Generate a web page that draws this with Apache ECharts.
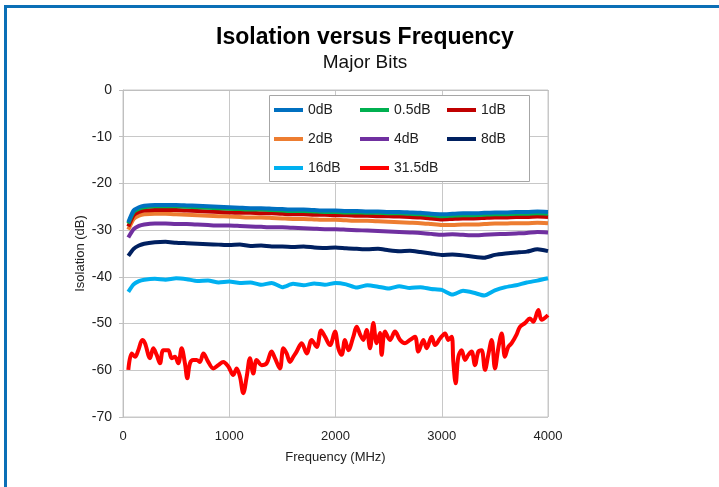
<!DOCTYPE html>
<html>
<head>
<meta charset="utf-8">
<script src="https://cdn.jsdelivr.net/npm/echarts@6/dist/echarts.min.js"></script>
<style>
html,body{margin:0;padding:0;background:#fff;}
#chart{width:719px;height:487px;}
</style>
</head>
<body>
<div id="chart"></div>
<script>
const freqs = [50,100,150,200,300,400,500,600,700,800,900,1000,1100,1200,1300,1400,1500,1600,1700,1800,1900,2000,2100,2200,2300,2400,2500,2600,2700,2800,2900,3000,3100,3200,3300,3400,3500,3600,3700,3800,3900,4000];
const s0dB = [-28.3,-25.8,-25.1,-24.8,-24.6,-24.6,-24.6,-24.7,-24.8,-24.9,-25.0,-25.1,-25.2,-25.3,-25.3,-25.4,-25.5,-25.6,-25.6,-25.7,-25.8,-25.8,-25.9,-25.9,-26.0,-26.0,-26.1,-26.1,-26.2,-26.3,-26.5,-26.6,-26.5,-26.4,-26.4,-26.3,-26.2,-26.2,-26.1,-26.1,-26.0,-26.1];
const s05dB = [-28.6,-26.1,-25.4,-25.1,-24.9,-24.9,-24.9,-25.0,-25.1,-25.2,-25.3,-25.4,-25.5,-25.6,-25.6,-25.7,-25.8,-25.9,-25.9,-26.0,-26.1,-26.1,-26.2,-26.2,-26.3,-26.3,-26.4,-26.4,-26.5,-26.6,-26.8,-27.0,-26.9,-26.8,-26.8,-26.7,-26.6,-26.6,-26.5,-26.5,-26.4,-26.5];
const s1dB = [-29.2,-26.8,-26.1,-25.8,-25.7,-25.7,-25.7,-25.8,-25.9,-26.0,-26.1,-26.2,-26.3,-26.3,-26.4,-26.4,-26.5,-26.6,-26.6,-26.7,-26.7,-26.8,-26.8,-26.9,-26.9,-27.0,-27.0,-27.1,-27.2,-27.3,-27.5,-27.7,-27.6,-27.5,-27.5,-27.4,-27.3,-27.3,-27.2,-27.2,-27.1,-27.2];
const s2dB = [-29.9,-27.6,-26.9,-26.6,-26.5,-26.5,-26.6,-26.7,-26.8,-26.9,-27.0,-27.1,-27.2,-27.3,-27.3,-27.4,-27.5,-27.6,-27.6,-27.7,-27.8,-27.8,-27.9,-28.0,-28.0,-28.1,-28.2,-28.3,-28.4,-28.5,-28.7,-28.9,-28.9,-28.8,-28.8,-28.7,-28.6,-28.6,-28.5,-28.5,-28.4,-28.5];
const s4dB = [-31.6,-29.8,-29.1,-28.8,-28.6,-28.6,-28.7,-28.7,-28.8,-28.9,-29.0,-29.0,-29.1,-29.2,-29.3,-29.4,-29.4,-29.5,-29.6,-29.7,-29.8,-29.8,-29.9,-30.0,-30.1,-30.2,-30.3,-30.4,-30.5,-30.6,-30.8,-31.0,-30.9,-31.0,-31.1,-31.0,-30.9,-30.8,-30.7,-30.6,-30.4,-30.5];
const s8dB = [-35.5,-34.0,-33.3,-32.9,-32.6,-32.5,-32.7,-32.8,-32.9,-33.0,-33.1,-33.2,-33.1,-33.4,-33.3,-33.5,-33.5,-33.6,-33.5,-33.7,-33.8,-33.7,-33.9,-34.0,-34.1,-34.0,-34.3,-34.5,-34.4,-34.7,-35.0,-35.3,-35.2,-35.4,-35.7,-35.9,-35.3,-35.0,-34.8,-34.6,-34.1,-34.5];
const s16dB = [-43.2,-41.6,-40.9,-40.6,-40.4,-40.6,-40.3,-40.5,-40.9,-40.8,-41.2,-41.0,-41.3,-41.2,-41.7,-41.3,-42.2,-41.5,-41.8,-41.4,-41.7,-41.3,-41.6,-42.3,-41.8,-42.1,-42.5,-42.0,-42.4,-42.2,-42.6,-42.8,-43.8,-43.0,-43.4,-44.0,-42.9,-42.2,-41.8,-41.2,-40.8,-40.3];
const redFreqs = [50,82,113,144,182,207,254,285,317,348,379,426,458,489,520,552,583,605,630,661,693,724,756,802,850,897,944,991,1038,1070,1101,1132,1164,1195,1226,1258,1305,1352,1398,1430,1477,1509,1540,1572,1603,1634,1682,1729,1776,1823,1865,1901,1948,1995,2027,2058,2089,2121,2168,2199,2231,2262,2293,2325,2356,2387,2419,2434,2466,2513,2560,2607,2654,2701,2748,2780,2827,2858,2905,2937,2984,3031,3062,3093,3109,3131,3156,3187,3219,3250,3281,3313,3344,3375,3407,3438,3470,3501,3532,3564,3595,3626,3658,3705,3736,3783,3830,3862,3909,3940,4000];
const s315dB = [-59.9,-56.4,-57.1,-55.7,-53.5,-54.2,-57.4,-55.3,-56.7,-58.5,-55.7,-55.7,-57.4,-57.1,-58.5,-55.3,-58.5,-61.7,-58.5,-57.8,-57.8,-58.2,-56.4,-58.2,-59.6,-58.9,-58.2,-59.2,-61.0,-59.6,-61.4,-64.9,-61.4,-57.4,-60.7,-57.8,-58.9,-58.5,-56.0,-57.4,-59.6,-55.3,-56.4,-58.2,-57.1,-56.0,-54.2,-56.4,-53.5,-55.0,-51.5,-52.8,-54.6,-51.7,-55.3,-56.7,-53.5,-55.7,-52.8,-50.7,-52.3,-53.5,-51.4,-55.3,-49.9,-54.2,-52.0,-56.7,-51.7,-53.5,-51.7,-53.5,-54.2,-53.5,-52.8,-56.0,-53.5,-55.3,-52.8,-54.6,-53.2,-52.1,-53.5,-52.8,-58.2,-62.8,-57.1,-55.7,-57.8,-56.7,-56.0,-58.9,-56.0,-55.7,-59.9,-56.7,-53.5,-59.6,-55.3,-52.1,-57.1,-55.0,-54.2,-52.3,-50.7,-49.9,-48.9,-49.6,-47.1,-49.2,-48.2];
const seriesNames = ['0dB','0.5dB','1dB','2dB','4dB','8dB','16dB','31.5dB'];
const seriesColors = ['#0070C0','#00B050','#C00000','#ED7D31','#7030A0','#002060','#00B0F0','#FF0000'];
const yTicks = [0,-10,-20,-30,-40,-50,-60,-70];
const xTicks = [0,1000,2000,3000,4000];

const font = '"Liberation Sans", Arial, sans-serif';
function pairs(xs, ys){ return xs.map((x,i)=>[x, ys[i]]); }
const seriesData = [
  pairs(freqs, s0dB), pairs(freqs, s05dB), pairs(freqs, s1dB), pairs(freqs, s2dB),
  pairs(freqs, s4dB), pairs(freqs, s8dB), pairs(freqs, s16dB), pairs(redFreqs, s315dB)
];
const drawOrder = [7,6,5,4,3,2,1,0];
const series = drawOrder.map(i => ({
  name: seriesNames[i], type: 'line', data: seriesData[i],
  showSymbol: false, symbol: 'none', smooth: i === 7 ? 0.35 : 0.2,
  lineStyle: { color: seriesColors[i], width: 4 },
  itemStyle: { color: seriesColors[i] },
  z: 2, animation: false
}));

function legendCol(left, names){
  return {
    left: left, top: 103, orient: 'vertical', icon: 'rect', z: 10, padding: 0,
    itemWidth: 29, itemHeight: 4, itemGap: 15,
    data: names,
    textStyle: { fontFamily: font, fontSize: 14, lineHeight: 14, color: '#222' },
    selectedMode: false
  };
}

const chart = echarts.init(document.getElementById('chart'), null, {renderer: 'canvas'});
chart.setOption({
  animation: false,
  backgroundColor: '#ffffff',
  title: [
    { text: 'Isolation versus Frequency', left: 360, top: 21, textAlign: 'center',
      textStyle: { fontFamily: font, fontSize: 23, fontWeight: 'bold', color: '#000' } },
    { text: 'Major Bits', left: 360, top: 48, textAlign: 'center',
      textStyle: { fontFamily: font, fontSize: 19, fontWeight: 'normal', color: '#111' } }
  ],
  grid: { left: 123, right: 171, top: 90, bottom: 70, containLabel: false,
          show: true, borderColor: '#c8c8c8', borderWidth: 1 },
  legend: [
    legendCol(274, ['0dB','2dB','16dB']),
    legendCol(360, ['0.5dB','4dB','31.5dB']),
    legendCol(447, ['1dB','8dB'])
  ],
  xAxis: {
    type: 'value', min: 0, max: 4000, interval: 1000,
    name: 'Frequency (MHz)', nameLocation: 'middle', nameGap: 34,
    nameTextStyle: { fontFamily: font, fontSize: 13, color: '#222' },
    axisLine: { show: true, lineStyle: { color: '#bfbfbf' } },
    axisTick: { show: false },
    axisLabel: { fontFamily: font, fontSize: 13, color: '#222', margin: 13,
      formatter: v => xTicks.indexOf(v) >= 0 ? String(v) : '' },
    splitLine: { show: true, lineStyle: { color: '#c8c8c8', width: 1 } }
  },
  yAxis: {
    type: 'value', min: -70, max: 0, interval: 10,
    name: 'Isolation (dB)', nameLocation: 'middle', nameGap: 36, nameRotate: 90,
    nameMoveOverlap: false,
    nameTextStyle: { fontFamily: font, fontSize: 13, color: '#222' },
    axisLine: { show: true, lineStyle: { color: '#bfbfbf' } },
    axisTick: { show: true, length: 4, lineStyle: { color: '#bfbfbf' } },
    axisLabel: { fontFamily: font, fontSize: 14, color: '#222', margin: 11,
      formatter: v => yTicks.indexOf(v) >= 0 ? String(v) : '' },
    splitLine: { show: true, lineStyle: { color: '#c8c8c8', width: 1 } }
  },
  graphic: [
    { type: 'rect', left: 269, top: 95, shape: { width: 260, height: 86 },
      style: { fill: '#fff', stroke: '#a6a6a6', lineWidth: 1 }, z: 3 },
    { type: 'rect', left: 4, top: 5, shape: { width: 715, height: 3 },
      style: { fill: '#0b6fb6' }, z: 100 },
    { type: 'rect', left: 4, top: 5, shape: { width: 3, height: 482 },
      style: { fill: '#0b6fb6' }, z: 100 }
  ],
  series: series
});
</script>
</body>
</html>
